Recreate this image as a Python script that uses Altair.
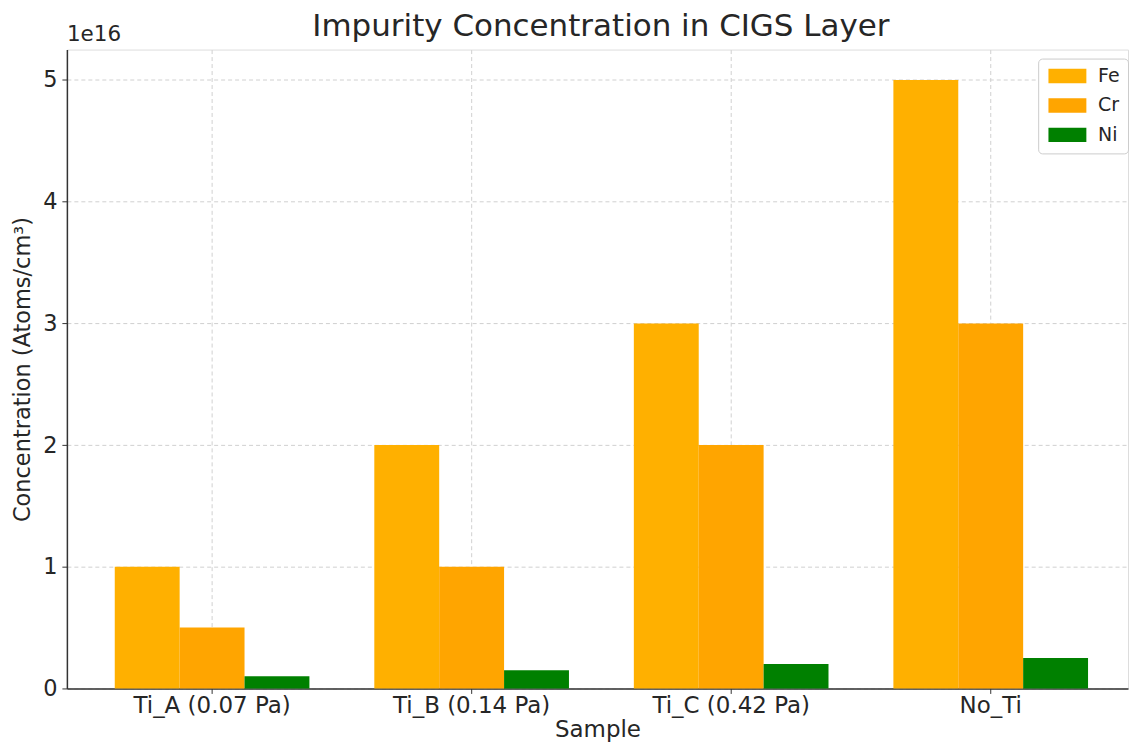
import altair as alt
import pandas as pd

samples = ["Ti_A (0.07 Pa)", "Ti_B (0.14 Pa)", "Ti_C (0.42 Pa)", "No_Ti"]
elements = ["Fe", "Cr", "Ni"]
fe = [1.0e16, 2.0e16, 3.0e16, 5.0e16]
cr = [0.5e16, 1.0e16, 2.0e16, 3.0e16]
ni = [0.1e16, 0.15e16, 0.2e16, 0.25e16]
colors = ["#FFB000", "#FFA500", "#008000"]
y_ticks = [0, 1e16, 2e16, 3e16, 4e16, 5e16]

rows = []
for el, vals in zip(elements, [fe, cr, ni]):
    for s, v in zip(samples, vals):
        rows.append({"Sample": s, "Element": el, "Concentration": v})
df = pd.DataFrame(rows)

font = "DejaVu Sans"
txt = "#262626"
fs = 22.5

bars = alt.Chart(df).mark_bar(opacity=1).encode(
    x=alt.X("Sample:N", sort=samples,
            scale=alt.Scale(paddingInner=0.25, paddingOuter=0.1692, align=0.545),
            axis=alt.Axis(title="Sample", labelAngle=0, bandPosition=0.5,
                          grid=True, gridDash=[4, 3], gridColor="#d0d0d0",
                          labelFontSize=23, titleFontSize=23, labelFont=font, titleFont=font,
                          labelColor=txt, titleColor=txt,
                          tickColor="#333", tickSize=5, labelPadding=1, titlePadding=1,
                          domainColor="#333", domainWidth=1.5, titleFontWeight="normal")),
    xOffset=alt.XOffset("Element:N", sort=elements,
                        scale=alt.Scale(paddingInner=0, paddingOuter=0)),
    y=alt.Y("Concentration:Q",
            scale=alt.Scale(domain=[0, 5.25e16], nice=False),
            axis=alt.Axis(title="Concentration (Atoms/cm³)", values=y_ticks,
                          labelExpr="format(datum.value / 1e16, 'd')",
                          grid=True, gridDash=[4, 3], gridColor="#d0d0d0",
                          labelFontSize=fs, titleFontSize=fs, labelFont=font, titleFont=font,
                          labelColor=txt, titleColor=txt,
                          tickColor="#333", tickSize=5, labelPadding=5, titlePadding=8,
                          domainColor="#333", domainWidth=1.5, titleFontWeight="normal")),
    color=alt.Color("Element:N", sort=elements,
                    scale=alt.Scale(domain=elements, range=colors),
                    legend=alt.Legend(title=None, orient="none", legendX=973, legendY=9,
                                      symbolType="M-1,-1L4.28,-1L4.28,1L-1,1Z",
                                      symbolSize=207, symbolStrokeWidth=0,
                                      labelFontSize=19, labelFont=font, labelColor=txt,
                                      labelOffset=33,
                                      rowPadding=9.5, padding=8,
                                      strokeColor="#cccccc", fillColor="white",
                                      cornerRadius=4)),
)

offset_text = alt.Chart(pd.DataFrame({"t": ["1e16"]})).mark_text(
    align="left", baseline="bottom", fontSize=21.5, font=font, color=txt
).encode(text="t:N", x=alt.value(0), y=alt.value(-4))

chart = alt.layer(bars, offset_text).properties(
    width=1063, height=640,
    title=alt.Title("Impurity Concentration in CIGS Layer", fontSize=31, font=font,
                    fontWeight="normal", color=txt, offset=-19.5, frame="group",
                    dx=3.5),
    padding={"left": 3, "top": 2, "right": 0, "bottom": 0},
).configure_view(stroke=None).configure(background="white")

chart.save("out.html", embed_options={"renderer": "svg", "actions": False})
